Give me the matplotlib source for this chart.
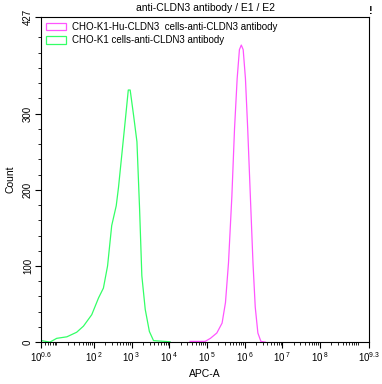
"""Flow cytometry overlay histogram: anti-CLDN3 antibody on CHO-K1 vs CHO-K1-Hu-CLDN3."""

import matplotlib
matplotlib.use("Agg")
import matplotlib.pyplot as plt
import numpy as np
from matplotlib.patches import Patch
from matplotlib.ticker import FixedLocator, NullFormatter

# APC-A intensity (log10) and event counts
green_log = [0.61, 0.83, 1.01, 1.28, 1.54, 1.72, 1.94, 2.12, 2.25, 2.36, 2.47, 2.59, 2.65,
             2.74, 2.83, 2.91, 2.96, 3.05, 3.14, 3.21, 3.27, 3.36, 3.47, 3.58, 4.02]
green_count = [2, 0, 5, 7, 13, 21, 36, 58, 71, 100, 153, 179, 203,
               247, 291, 331, 331, 298, 263, 175, 87, 43, 14, 2, 0.5]

magenta_log = [4.55, 4.95, 5.09, 5.26, 5.40, 5.49, 5.57, 5.66, 5.73, 5.80, 5.86, 5.91,
               5.96, 6.02, 6.08, 6.15, 6.22, 6.28, 6.35, 6.43, 6.55]
magenta_count = [1, 1, 5, 12, 25, 52, 104, 192, 280, 346, 384, 390,
                 384, 346, 280, 192, 104, 46, 12, 1, 0]

series_labels = ["CHO-K1-Hu-CLDN3  cells-anti-CLDN3 antibody", "CHO-K1 cells-anti-CLDN3 antibody"]
series_colors = ["#ff55ff", "#33ff66"]

x_tick_exps = [0.6, 2, 3, 4, 5, 6, 7, 8, 9.3]
x_tick_labels = ["$10^{0.6}$", "$10^{\\ 2}$", "$10^{\\ 3}$", "$10^{\\ 4}$", "$10^{\\ 5}$",
                 "$10^{\\ 6}$", "$10^{\\ 7}$", "$10^{\\ 8}$", "$10^{9.3}$"]
y_ticks = [0, 100, 200, 300, 427]

plt.rcParams["font.family"] = ["Liberation Sans", "DejaVu Sans"]
plt.rcParams["mathtext.fontset"] = "custom"
plt.rcParams["mathtext.rm"] = "Liberation Sans"
plt.rcParams["mathtext.it"] = "Liberation Sans"

fig = plt.figure(figsize=(3.82, 3.84), dpi=100)
ax = fig.add_axes([0.108, 0.109, 0.858, 0.847])

ax.plot(10 ** np.array(magenta_log), magenta_count, color=series_colors[0], lw=0.9)
ax.plot(10 ** np.array(green_log), green_count, color=series_colors[1], lw=0.9)

ax.set_xscale("log")
ax.set_xlim(10 ** 0.6, 10 ** 9.3)
ax.set_ylim(0, 427)

ax.set_xticks([10 ** e for e in x_tick_exps])
ax.set_xticklabels(x_tick_labels, fontsize=7)
minor = []
for d in range(0, 10):
    for m in range(1, 10):
        v = m * 10.0 ** d
        if 10 ** 0.6 < v < 10 ** 9.3:
            minor.append(v)
ax.xaxis.set_minor_locator(FixedLocator(minor))
ax.xaxis.set_minor_formatter(NullFormatter())

ax.set_yticks(y_ticks)
ax.set_yticklabels([str(t) for t in y_ticks], fontsize=7, rotation=90, va="center")
ax.yaxis.set_minor_locator(FixedLocator(list(range(20, 420, 20))))

ax.tick_params(which="major", length=4, width=0.8, pad=2)
ax.tick_params(which="minor", length=2, width=0.6)
for s in ax.spines.values():
    s.set_linewidth(0.8)

ax.set_xlabel("APC-A", fontsize=7.5, va="center")
ax.xaxis.set_label_coords(0.5, -0.098)
ax.set_ylabel("Count", fontsize=7.5, va="center")
ax.yaxis.set_label_coords(-0.093, 0.5)
ax.set_title("anti-CLDN3 antibody / E1 / E2", fontsize=7.5, pad=4)
fig.text(0.972, 0.972, "!", fontsize=8, fontweight="bold", ha="center", va="center")

handles = [Patch(facecolor="none", edgecolor=c, lw=0.9) for c in series_colors]
ax.legend(handles, series_labels, loc="upper left", fontsize=7, frameon=False,
          handlelength=2.0, handleheight=0.8, handletextpad=0.7, borderaxespad=0.1,
          labelspacing=0.35)

fig.savefig("out.png", dpi=100)
